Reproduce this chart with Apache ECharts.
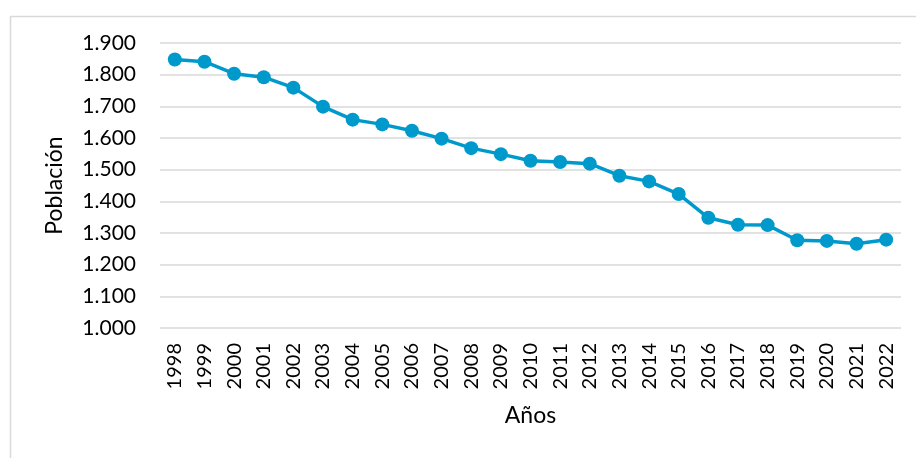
<!DOCTYPE html>
<html>
<head>
<meta charset="utf-8">
<script src="https://cdn.jsdelivr.net/npm/echarts@6/dist/echarts.min.js"></script>
<style>
  html, body { margin: 0; padding: 0; background: #fff; }
  #chart { width: 916px; height: 458px; }
</style>
</head>
<body>
<div id="chart"></div>
<script>
// Población por año
const years = ['1998','1999','2000','2001','2002','2003','2004','2005','2006','2007','2008','2009',
  '2010','2011','2012','2013','2014','2015','2016','2017','2018','2019','2020','2021','2022'];
const poblacion = [1848, 1841, 1803, 1792, 1759, 1699, 1658, 1643, 1623, 1598, 1568, 1549,
  1528, 1524, 1519, 1481, 1463, 1423, 1348, 1326, 1325, 1277, 1275, 1266, 1279];
const yTicks = ['1.000','1.100','1.200','1.300','1.400','1.500','1.600','1.700','1.800','1.900'];

const FONT = 'Lato';
const chart = echarts.init(document.getElementById('chart'), null, { renderer: 'canvas' });

chart.setOption({
  animation: false,
  backgroundColor: '#ffffff',
  textStyle: { fontFamily: FONT, color: '#000' },
  graphic: [{
    type: 'rect',
    left: 8, top: 14,
    shape: { width: 1000, height: 1000 },
    style: { fill: 'none', stroke: '#d9d9d9', lineWidth: 1.5 },
    silent: true, z: -1
  }],
  grid: { left: 160, right: 15, top: 43, bottom: 130 },
  xAxis: {
    type: 'category',
    data: years,
    boundaryGap: true,
    name: 'Años',
    nameLocation: 'middle',
    nameGap: 76,
    nameTextStyle: { fontFamily: FONT, fontSize: 23, color: '#000' },
    axisLine: { show: false },
    axisTick: { show: false },
    axisLabel: {
      rotate: 90, margin: 15, interval: 0,
      fontFamily: FONT, fontSize: 20, color: '#000'
    }
  },
  yAxis: {
    type: 'value',
    min: 1000, max: 1900, interval: 100,
    name: 'Población',
    nameLocation: 'middle',
    nameRotate: 90,
    nameGap: 94,
    nameTextStyle: { fontFamily: FONT, fontSize: 23, color: '#000' },
    axisLine: { show: false },
    axisTick: { show: false },
    splitLine: { lineStyle: { color: '#d9d9d9', width: 1.5 } },
    axisLabel: {
      margin: 24,
      fontFamily: FONT, fontSize: 21, color: '#000',
      formatter: v => yTicks[Math.round((v - 1000) / 100)]
    }
  },
  series: [{
    type: 'line',
    data: poblacion,
    symbol: 'circle',
    symbolSize: 14,
    lineStyle: { color: '#0099cc', width: 3.5 },
    itemStyle: { color: '#0099cc' }
  }]
});
</script>
</body>
</html>
